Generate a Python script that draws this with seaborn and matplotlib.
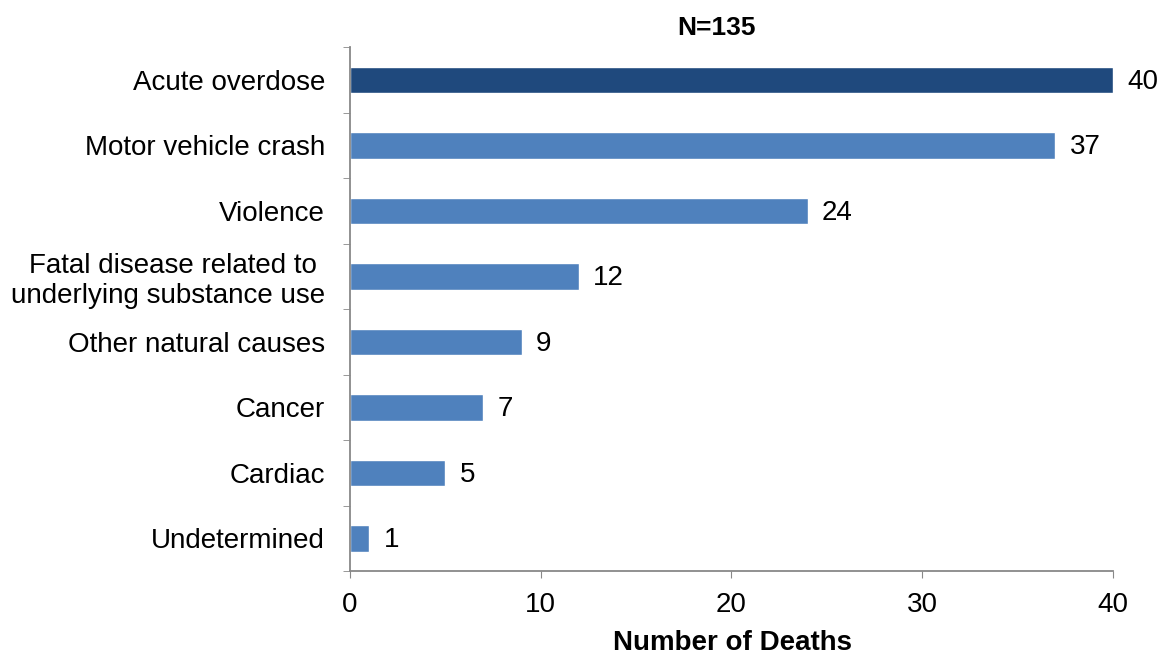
import seaborn as sns
import matplotlib.pyplot as plt
import pandas as pd
from matplotlib.ticker import FixedLocator

causes = ["Acute overdose", "Motor vehicle crash", "Violence",
          "Fatal disease related to \nunderlying substance use",
          "Other natural causes", "Cancer", "Cardiac", "Undetermined"]
deaths = [40, 37, 24, 12, 9, 7, 5, 1]
highlight = ["top", "other", "other", "other", "other", "other", "other", "other"]

df = pd.DataFrame({"cause": causes, "deaths": deaths, "group": highlight})

sns.set_style("white")
plt.rcParams["font.family"] = ["Liberation Sans", "DejaVu Sans"]
plt.rcParams["text.color"] = "black"
plt.rcParams["xtick.labelcolor"] = "black"
plt.rcParams["ytick.labelcolor"] = "black"

fig = plt.figure(figsize=(11.59, 6.55), dpi=100)
ax = fig.add_axes([0.302, 0.128, 0.658, 0.800])

sns.barplot(data=df, x="deaths", y="cause", hue="group", orient="h",
            palette={"top": "#1f497d", "other": "#4f81bd"},
            width=0.4, dodge=False, legend=False, ax=ax, saturation=1)

for i, v in enumerate(deaths):
    ax.text(v + 0.75, i + 0.03, str(v), va="center", ha="left", fontsize=20)

ax.set_xlim(0, 40)
ax.set_ylim(7.5, -0.5)
ax.set_xticks([0, 10, 20, 30, 40])
ax.tick_params(axis="x", labelsize=20, direction="out", length=5,
               color="#888888", bottom=True, pad=10)
ax.tick_params(axis="y", which="major", length=0, labelsize=20, pad=18,
               labelcolor="black")
ax.yaxis.set_minor_locator(FixedLocator([i - 0.5 for i in range(9)]))
ax.tick_params(axis="y", which="minor", direction="out", length=5,
               color="#888888", left=True)

for side in ["top", "right"]:
    ax.spines[side].set_visible(False)
for side in ["left", "bottom"]:
    ax.spines[side].set_color("#888888")
    ax.spines[side].set_linewidth(1.3)

ax.set_ylabel("")
ax.set_xlabel("")
fig.text(0.632, 0.018, "Number of Deaths", ha="center", va="center",
         fontsize=20, fontweight="bold")
fig.text(0.618, 0.957, "N=135", ha="center", va="center",
         fontsize=19, fontweight="bold")

fig.savefig("out.png", dpi=100)
